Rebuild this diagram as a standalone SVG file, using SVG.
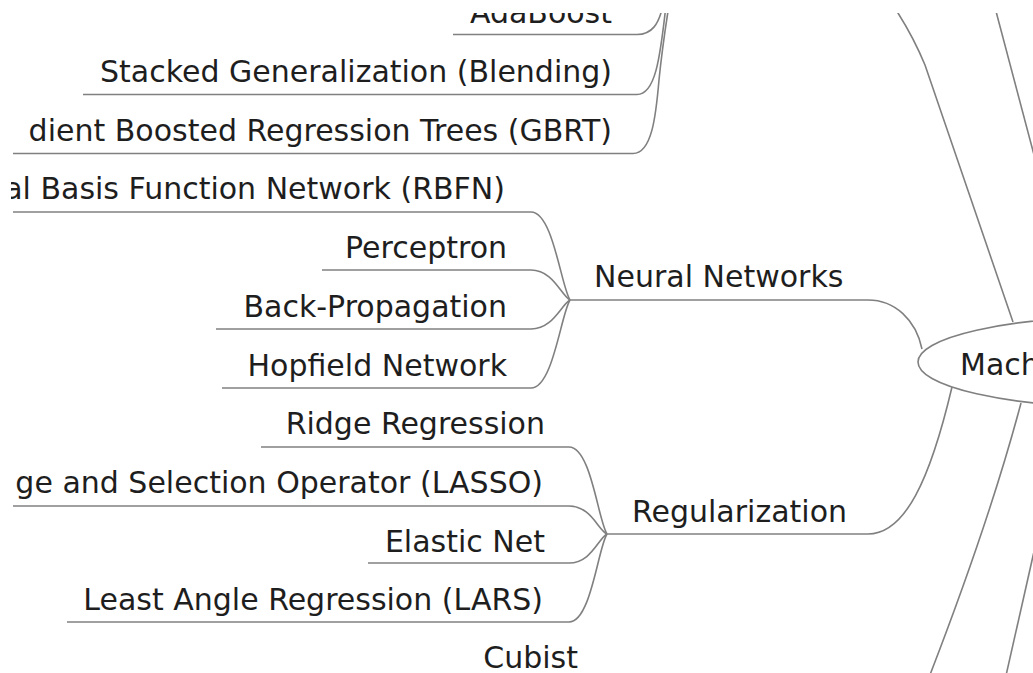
<svg xmlns="http://www.w3.org/2000/svg" width="1033" height="673" viewBox="0 0 1033 673">
<style>
  text { font-family: "DejaVu Sans", "Liberation Sans", sans-serif; font-size: 30px; fill: #1e1e1e; }
  .l { text-anchor: end; }
  .ul, .edge { fill: none; stroke: #808080; stroke-width: 1.6; }
  .root { fill: #ffffff; stroke: #808080; stroke-width: 1.6; }
</style>
<defs>
  <clipPath id="view"><rect x="11" y="13" width="1022" height="660"/></clipPath>
</defs>
<rect width="1033" height="673" fill="#ffffff"/>
<g clip-path="url(#view)">
  <g id="connectors">
    <path class="edge" d="M 637 34.5 C 652 34.5, 659 24, 663 5"/>
    <path class="edge" d="M 637 94.5 C 655 94.5, 660 60, 666 5"/>
    <path class="edge" d="M 633 153.5 C 652 153.5, 656 115, 659 80 C 662 50, 665 30, 669 5"/>
    <path class="edge" d="M 531 212 C 553 212, 561 286, 570 300"/>
    <path class="edge" d="M 531 270 C 553 270, 561 295, 570 300"/>
    <path class="edge" d="M 531 329 C 553 329, 561 305, 570 300"/>
    <path class="edge" d="M 531 388 C 553 388, 561 314, 570 300"/>
    <path class="edge" d="M 569 447 C 591 447, 598 520, 607 534"/>
    <path class="edge" d="M 569 506 C 591 506, 598 530, 607 534"/>
    <path class="edge" d="M 569 563 C 591 563, 598 539, 607 534"/>
    <path class="edge" d="M 569 622 C 591 622, 598 548, 607 534"/>
    <path class="edge" d="M 868 300 C 895 300, 916 320, 922 349"/>
    <path class="edge" d="M 868 534 C 905 534, 930 480, 952 387"/>
    <path class="edge" d="M 1013 322 L 925 65 C 918 48, 910 32, 898 13 L 890 0"/>
    <path class="edge" d="M 993 0 L 1042 185"/>
    <path class="edge" d="M 1021 403 Q 990 520, 928 680"/>
    <path class="edge" d="M 1040 525 L 1005 680"/>
  </g>
  <g id="node-adaboost">
    <line class="ul" x1="453" y1="34.5" x2="637" y2="34.5"/>
    <text class="l" x="612" y="23">AdaBoost</text>
  </g>
  <g id="node-stacked">
    <line class="ul" x1="83" y1="94.5" x2="637" y2="94.5"/>
    <text class="l" x="612" y="82">Stacked Generalization (Blending)</text>
  </g>
  <g id="node-gbrt">
    <line class="ul" x1="13" y1="153.5" x2="633" y2="153.5"/>
    <text class="l" x="612" y="141">dient Boosted Regression Trees (GBRT)</text>
  </g>
  <g id="node-rbfn">
    <line class="ul" x1="13" y1="212" x2="531" y2="212"/>
    <text class="l" x="505" y="199">al Basis Function Network (RBFN)</text>
  </g>
  <g id="node-perceptron">
    <line class="ul" x1="322" y1="270" x2="531" y2="270"/>
    <text class="l" x="507" y="258">Perceptron</text>
  </g>
  <g id="node-backprop">
    <line class="ul" x1="216" y1="329" x2="531" y2="329"/>
    <text class="l" x="507" y="317">Back-Propagation</text>
  </g>
  <g id="node-hopfield">
    <line class="ul" x1="222" y1="388" x2="531" y2="388"/>
    <text class="l" x="507" y="376">Hopfield Network</text>
  </g>
  <g id="node-neural-networks">
    <line class="ul" x1="570" y1="300" x2="868" y2="300"/>
    <text x="594" y="287">Neural Networks</text>
  </g>
  <g id="node-ridge">
    <line class="ul" x1="261" y1="447" x2="569" y2="447"/>
    <text class="l" x="545" y="434">Ridge Regression</text>
  </g>
  <g id="node-lasso">
    <line class="ul" x1="13" y1="506" x2="569" y2="506"/>
    <text class="l" x="543" y="493">ge and Selection Operator (LASSO)</text>
  </g>
  <g id="node-elastic">
    <line class="ul" x1="368" y1="563" x2="569" y2="563"/>
    <text class="l" x="545" y="552">Elastic Net</text>
  </g>
  <g id="node-lars">
    <line class="ul" x1="67" y1="622" x2="569" y2="622"/>
    <text class="l" x="543" y="610">Least Angle Regression (LARS)</text>
  </g>
  <g id="node-regularization">
    <line class="ul" x1="607" y1="534" x2="868" y2="534"/>
    <text x="632" y="522">Regularization</text>
  </g>
  <g id="node-cubist">
    <text class="l" x="578" y="668">Cubist</text>
  </g>
  <g id="node-root">
    <ellipse class="root" cx="1118" cy="362" rx="200" ry="45"/>
    <text x="960" y="375">Mach</text>
  </g>
</g>
</svg>
